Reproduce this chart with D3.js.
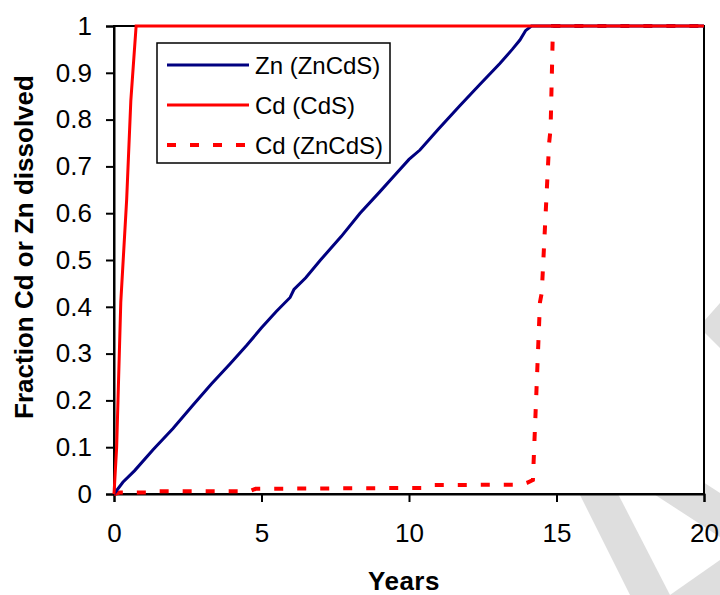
<!DOCTYPE html>
<html>
<head>
<meta charset="utf-8">
<script src="https://cdn.jsdelivr.net/npm/d3@7"></script>
<style>
  html, body { margin: 0; padding: 0; background: #fff; }
  svg { display: block; font-family: "Liberation Sans", Arial, sans-serif; }
</style>
</head>
<body>
<div id="chart"></div>
<script>
// Zn released from ZnCdS
const znYears = [0, 0.3, 0.7, 1.33, 2, 2.68, 3.3, 3.93, 4.5, 5, 5.5, 5.97, 6.1, 6.5, 7, 7.7, 8.34, 9, 9.5, 10, 10.37, 11, 11.73, 12.4, 13.08, 13.5, 13.76, 13.95, 14.15, 20]
const znFrac = [0, 0.025, 0.05, 0.095, 0.14, 0.19, 0.235, 0.278, 0.318, 0.355, 0.39, 0.42, 0.437, 0.462, 0.5, 0.55, 0.6, 0.645, 0.68, 0.715, 0.735, 0.78, 0.83, 0.875, 0.92, 0.95, 0.97, 0.99, 1, 1]

// Cd released from CdS
const cdsYears = [0, 0.09, 0.23, 0.43, 0.57, 0.75, 20]
const cdsFrac = [0, 0.1, 0.41, 0.63, 0.84, 1, 1]

// Cd released from ZnCdS
const cdZnYears = [0, 0.2, 1.2, 1.4, 4.6, 4.8, 10.5, 10.8, 13.8, 14.0, 14.2, 14.37, 14.44, 14.5, 14.75, 14.8, 14.88, 20]
const cdZnFrac = [0, 0.003, 0.003, 0.006, 0.006, 0.011, 0.013, 0.019, 0.02, 0.024, 0.03, 0.3, 0.41, 0.43, 0.75, 0.78, 1, 1]

const xTicks = [0, 5, 10, 15, 20]
const yTicks = [0, 0.1, 0.2, 0.3, 0.4, 0.5, 0.6, 0.7, 0.8, 0.9, 1]

const seriesNames = ["Zn (ZnCdS)", "Cd (CdS)", "Cd (ZnCdS)"]
const seriesColors = ["#000080", "#ff0000", "#ff0000"]
const seriesDash = [null, null, "9 14"]

const width = 720
const height = 595
const margin = { top: 26, right: 16, bottom: 101, left: 114 }

const svg = d3.select("#chart")
  .append("svg")
  .attr("width", width)
  .attr("height", height)

// faint watermark behind the plot area
const wm = svg.append("g").attr("fill", "#dedede")
const marks = [
  [[560, 455], [598, 455], [670, 595], [630, 595]],
  [[640, 441], [720, 493], [720, 537], [640, 485]],
  [[670, 595], [720, 560], [720, 595]],
  [[720, 303], [705, 320], [705, 333], [720, 348]]
]
marks.forEach(p => wm.append("polygon").attr("points", p.map(d => d.join(",")).join(" ")))

const x = d3.scaleLinear().domain([0, 20]).range([margin.left, width - margin.right])
const y = d3.scaleLinear().domain([0, 1]).range([height - margin.bottom, margin.top])

// plot area
svg.append("rect")
  .attr("x", x(0)).attr("y", y(1))
  .attr("width", x(20) - x(0)).attr("height", y(0) - y(1))
  .attr("fill", "#fff")
  .attr("stroke", "#000")
  .attr("stroke-width", 2)

const xAxis = svg.append("g")
  .attr("transform", `translate(0,${y(0)})`)
  .call(d3.axisBottom(x).tickValues(xTicks).tickSize(8).tickPadding(22).tickFormat(d3.format("d")))

const yAxis = svg.append("g")
  .attr("transform", `translate(${x(0)},0)`)
  .call(d3.axisLeft(y).tickValues(yTicks).tickSize(8).tickPadding(14).tickFormat(d => String(d)))

for (const ax of [xAxis, yAxis]) {
  ax.select(".domain").attr("stroke", "#000").attr("stroke-width", 2)
  ax.selectAll(".tick line").attr("stroke", "#000").attr("stroke-width", 2)
  ax.selectAll(".tick text")
    .attr("fill", "#000")
    .style("font-family", "'Liberation Sans', Arial, sans-serif")
    .style("font-size", "26px")
}

// series
const line = d3.line().x(d => x(d[0])).y(d => y(d[1]))
const series = [
  d3.zip(znYears, znFrac),
  d3.zip(cdsYears, cdsFrac),
  d3.zip(cdZnYears, cdZnFrac)
]

// draw dashed first, then solid on top
;[2, 0, 1].forEach(i => {
  svg.append("path")
    .datum(series[i])
    .attr("d", line)
    .attr("fill", "none")
    .attr("stroke", seriesColors[i])
    .attr("stroke-width", i === 2 ? 4 : 3)
    .attr("stroke-linecap", "butt")
    .attr("stroke-linejoin", "miter")
    .style("stroke-dasharray", seriesDash[i])
})

// legend
const legend = svg.append("g").attr("transform", "translate(157,43)")
legend.append("rect")
  .attr("width", 233).attr("height", 120)
  .attr("fill", "#fff")
  .attr("stroke", "#000")
  .attr("stroke-width", 1.5)

seriesNames.forEach((name, i) => {
  const ly = 22 + i * 40
  legend.append("line")
    .attr("x1", 10).attr("x2", 92)
    .attr("y1", ly).attr("y2", ly)
    .attr("stroke", seriesColors[i])
    .attr("stroke-width", i === 2 ? 4 : 3)
    .style("stroke-dasharray", seriesDash[i])
  legend.append("text")
    .attr("x", 98).attr("y", ly)
    .attr("dy", "0.36em")
    .style("font-size", "24px")
    .text(name)
})

// axis titles
svg.append("text")
  .attr("x", 404).attr("y", 590)
  .attr("text-anchor", "middle")
  .style("font-size", "26px")
  .style("font-weight", "bold")
  .style("letter-spacing", "0.5px")
  .text("Years")

svg.append("text")
  .attr("transform", "translate(33,247) rotate(-90)")
  .attr("text-anchor", "middle")
  .style("font-size", "26px")
  .style("font-weight", "bold")
  .text("Fraction Cd or Zn dissolved")
</script>
</body>
</html>
